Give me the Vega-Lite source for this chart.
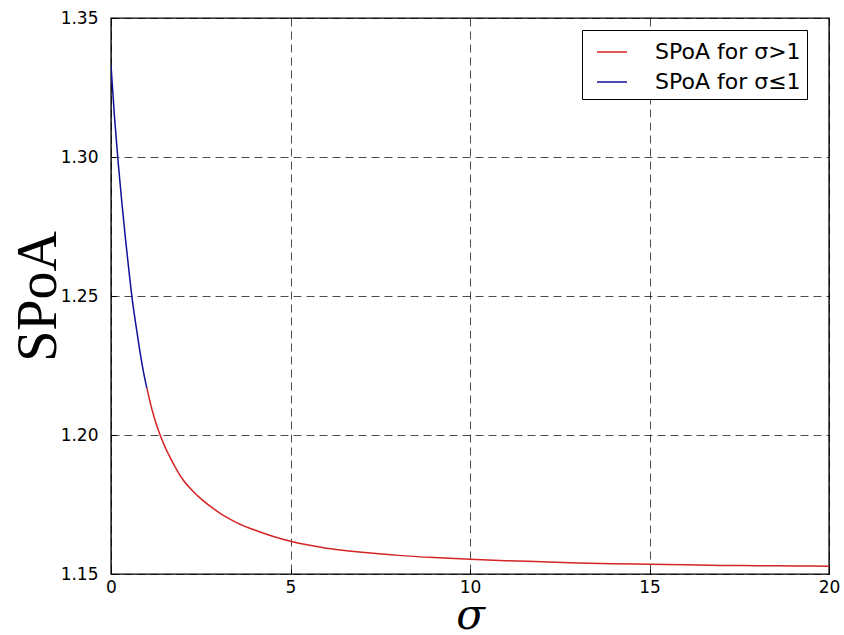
{
  "$schema": "https://vega.github.io/schema/vega-lite/v6.json",
  "width": 718,
  "height": 556,
  "autosize": {"type": "none"},
  "padding": {"left": 111, "top": 18, "right": 15, "bottom": 61},
  "background": "white",
  "config": {
    "view": {"stroke": "#000000", "strokeWidth": 1.4},
    "axis": {
      "domain": false,
      "grid": true,
      "gridColor": "#000000",
      "gridOpacity": 0.7,
      "gridDash": [8, 5],
      "gridWidth": 1,
      "ticks": true,
      "tickColor": "#000000",
      "tickSize": -5,
      "labelFlush": false,
      "labelFont": "DejaVu Sans",
      "labelFontSize": 17,
      "labelColor": "#000000"
    }
  },
  "data": {
    "values": [
      {"sigma": 0.0, "spoa": 1.3330, "series": "SPoA for σ≤1"},
      {"sigma": 0.1, "spoa": 1.3140, "series": "SPoA for σ≤1"},
      {"sigma": 0.2, "spoa": 1.2980, "series": "SPoA for σ≤1"},
      {"sigma": 0.3, "spoa": 1.2840, "series": "SPoA for σ≤1"},
      {"sigma": 0.4, "spoa": 1.2710, "series": "SPoA for σ≤1"},
      {"sigma": 0.5, "spoa": 1.2590, "series": "SPoA for σ≤1"},
      {"sigma": 0.6, "spoa": 1.2480, "series": "SPoA for σ≤1"},
      {"sigma": 0.7, "spoa": 1.2390, "series": "SPoA for σ≤1"},
      {"sigma": 0.8, "spoa": 1.2305, "series": "SPoA for σ≤1"},
      {"sigma": 0.9, "spoa": 1.2230, "series": "SPoA for σ≤1"},
      {"sigma": 1.0, "spoa": 1.2168, "series": "SPoA for σ≤1"},
      {"sigma": 1.0, "spoa": 1.2168, "series": "SPoA for σ>1"},
      {"sigma": 1.1, "spoa": 1.2113, "series": "SPoA for σ>1"},
      {"sigma": 1.2, "spoa": 1.2065, "series": "SPoA for σ>1"},
      {"sigma": 1.3, "spoa": 1.2024, "series": "SPoA for σ>1"},
      {"sigma": 1.4, "spoa": 1.1989, "series": "SPoA for σ>1"},
      {"sigma": 1.5, "spoa": 1.1958, "series": "SPoA for σ>1"},
      {"sigma": 1.6, "spoa": 1.1931, "series": "SPoA for σ>1"},
      {"sigma": 1.8, "spoa": 1.1882, "series": "SPoA for σ>1"},
      {"sigma": 2.0, "spoa": 1.1840, "series": "SPoA for σ>1"},
      {"sigma": 2.25, "spoa": 1.1802, "series": "SPoA for σ>1"},
      {"sigma": 2.5, "spoa": 1.1771, "series": "SPoA for σ>1"},
      {"sigma": 2.75, "spoa": 1.1745, "series": "SPoA for σ>1"},
      {"sigma": 3.0, "spoa": 1.1722, "series": "SPoA for σ>1"},
      {"sigma": 3.25, "spoa": 1.1702, "series": "SPoA for σ>1"},
      {"sigma": 3.5, "spoa": 1.1685, "series": "SPoA for σ>1"},
      {"sigma": 4.0, "spoa": 1.1658, "series": "SPoA for σ>1"},
      {"sigma": 4.5, "spoa": 1.1636, "series": "SPoA for σ>1"},
      {"sigma": 5.0, "spoa": 1.1618, "series": "SPoA for σ>1"},
      {"sigma": 5.5, "spoa": 1.1604, "series": "SPoA for σ>1"},
      {"sigma": 6.0, "spoa": 1.1593, "series": "SPoA for σ>1"},
      {"sigma": 7.0, "spoa": 1.1578, "series": "SPoA for σ>1"},
      {"sigma": 8.0, "spoa": 1.1567, "series": "SPoA for σ>1"},
      {"sigma": 9.0, "spoa": 1.1559, "series": "SPoA for σ>1"},
      {"sigma": 10.0, "spoa": 1.1553, "series": "SPoA for σ>1"},
      {"sigma": 11.0, "spoa": 1.1548, "series": "SPoA for σ>1"},
      {"sigma": 12.0, "spoa": 1.1544, "series": "SPoA for σ>1"},
      {"sigma": 13.0, "spoa": 1.1540, "series": "SPoA for σ>1"},
      {"sigma": 14.0, "spoa": 1.1537, "series": "SPoA for σ>1"},
      {"sigma": 15.0, "spoa": 1.1535, "series": "SPoA for σ>1"},
      {"sigma": 16.0, "spoa": 1.1533, "series": "SPoA for σ>1"},
      {"sigma": 17.0, "spoa": 1.1531, "series": "SPoA for σ>1"},
      {"sigma": 18.0, "spoa": 1.1530, "series": "SPoA for σ>1"},
      {"sigma": 19.0, "spoa": 1.1529, "series": "SPoA for σ>1"},
      {"sigma": 20.0, "spoa": 1.1528, "series": "SPoA for σ>1"}
    ]
  },
  "mark": {"type": "line", "strokeWidth": 1.5, "clip": true, "interpolate": "monotone"},
  "encoding": {
    "x": {
      "field": "sigma",
      "type": "quantitative",
      "scale": {"domain": [0, 20], "nice": false, "zero": false},
      "axis": {
        "values": [0, 5, 10, 15, 20],
        "format": "d",
        "labelPadding": 10,
        "title": "σ",
        "titleFont": "DejaVu Serif",
        "titleFontStyle": "italic",
        "titleFontWeight": "normal",
        "titleFontSize": 42,
        "titleBaseline": "alphabetic",
        "titleY": 54,
        "titleX": 359
      }
    },
    "y": {
      "field": "spoa",
      "type": "quantitative",
      "scale": {"domain": [1.15, 1.35], "nice": false, "zero": false},
      "axis": {
        "values": [1.15, 1.2, 1.25, 1.3, 1.35],
        "format": ".2f",
        "labelPadding": 18,
        "title": "SPoA",
        "titleFont": "Liberation Serif",
        "titleFontWeight": "normal",
        "titleFontSize": 56,
        "titleAngle": -90,
        "titleAlign": "center",
        "titleBaseline": "alphabetic",
        "titleX": -56,
        "titleY": 278
      }
    },
    "color": {
      "field": "series",
      "type": "nominal",
      "scale": {
        "domain": ["SPoA for σ>1", "SPoA for σ≤1"],
        "range": ["#d42424", "#10109a"]
      },
      "legend": {
        "title": null,
        "orient": "none",
        "legendX": 471,
        "legendY": 12,
        "strokeColor": "#000000",
        "fillColor": "white",
        "padding": 6,
        "symbolType": "stroke",
        "symbolSize": 900,
        "symbolStrokeWidth": 1.5,
        "symbolOffset": 8,
        "rowPadding": 3,
        "labelOffset": 27,
        "labelFont": "DejaVu Sans",
        "labelFontSize": 22,
        "labelColor": "#000000"
      }
    }
  }
}
